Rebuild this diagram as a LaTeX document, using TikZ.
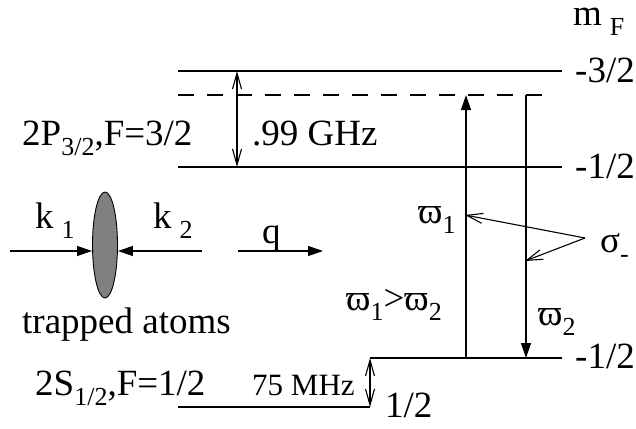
\documentclass[tikz,border=0pt]{standalone}
\usepackage{fontspec}
\setmainfont{Liberation Serif}
\usetikzlibrary{arrows.meta,shapes.geometric}
\newcommand{\lowsub}[1]{\raisebox{-10pt}{\fontsize{26}{26}\selectfont #1}}
\tikzset{
  level/.style={line width=2.4pt},
  dlevel/.style={line width=2.2pt, dash pattern=on 16pt off 13pt},
  lbl/.style={anchor=base west, inner sep=0pt, font=\fontsize{37}{37}\selectfont},
  smalllbl/.style={anchor=base west, inner sep=0pt, font=\fontsize{31}{31}\selectfont},
  fillarrow/.style={line width=1.1pt, -{Triangle[length=15pt,width=10pt]}},
  openarrow/.style={line width=1.1pt, -{Straight Barb[length=16pt,width=10pt]}},
  dblarrow/.style={line width=1.1pt, {Straight Barb[length=16pt,width=9pt]}-{Straight Barb[length=16pt,width=9pt]}},
}
\begin{document}
\begin{tikzpicture}[x=1pt,y=-1pt]
\useasboundingbox (0,0) rectangle (636,428);
% levels
\coordinate (P3L) at (178,71);  \coordinate (P3R) at (562,71);
\coordinate (PdL) at (178,95);  \coordinate (PdR) at (545,95);
\coordinate (P1L) at (178,167); \coordinate (P1R) at (562,167);
\coordinate (S1L) at (370,358); \coordinate (S1R) at (562,358);
\coordinate (S0L) at (178,407); \coordinate (S0R) at (370,407);
\draw[level] (P3L) -- (P3R);
\draw[dlevel] (PdL) -- (PdR);
\draw[level] (P1L) -- (P1R);
\draw[level] (S1L) -- (S1R);
\draw[level] (S0L) -- (S0R);
% splittings
\coordinate (gA) at (237,71); \coordinate (gB) at (237,167);
\draw[dblarrow] (gA) -- (gB);
\draw[dblarrow] (S1L) -- (S0R);
% transitions
\coordinate (upB) at (466,358); \coordinate (upT) at (466,95);
\coordinate (dnT) at (526,95);  \coordinate (dnB) at (526,358);
\draw[fillarrow] (upB) -- (upT);
\draw[fillarrow] (dnT) -- (dnB);
% sigma arrows
\coordinate (sg) at (585,238);
\coordinate (w1tip) at (465,215);
\coordinate (w2tip) at (525,261);
\draw[openarrow] (sg) -- (w1tip);
\draw[openarrow] (sg) -- (w2tip);
% atoms
\node[ellipse, draw, line width=0.9pt, fill={rgb,255:red,128;green,128;blue,128}, minimum width=25pt, minimum height=106pt, inner sep=0pt] (atoms) at (105,245) {};
\coordinate (k1s) at (10,251);
\coordinate (k2s) at (202,251);
\coordinate (qs) at (238,251);
\coordinate (qe) at (323,251);
\draw[fillarrow] (k1s) -- (k1s -| atoms.west);
\draw[fillarrow] (k2s) -- (k2s -| atoms.east);
\draw[fillarrow] (qs) -- (qe);
% labels
\node[lbl] (mF) at (573,26) {m\hspace{8pt}\lowsub{F}};
\node[lbl] (m32) at (575,82) {-3/2};
\node[lbl] (m12a) at (575,178) {-1/2};
\node[lbl] (m12b) at (575,368) {-1/2};
\node[lbl] (p12) at (385,417) {1/2};
\node[lbl] (P32) at (22,145) {2P\lowsub{3/2},F=3/2};
\node[lbl] (GHz) at (252,145) {.99 GHz};
\node[lbl] (k1) at (35,228) {k\hspace{8pt}\lowsub{1}};
\node[lbl] (k2) at (153,228) {k\hspace{8pt}\lowsub{2}};
\node[lbl] (q) at (262,243) {q};
\node[lbl] (trap) at (22,333) {trapped atoms};
\node[lbl] (S12) at (35,395) {2S\lowsub{1/2},F=1/2};
\node[smalllbl] (MHz) at (252,395) {75 MHz};
\node[lbl] (w1) at (418,223) {ϖ\lowsub{1}};
\node[lbl] (sig) at (600,252) {σ\lowsub{-}};
\node[lbl] (w12) at (346,310) {ϖ\lowsub{1}>ϖ\lowsub{2}};
\node[lbl] (w2) at (538,325) {ϖ\lowsub{2}};
\end{tikzpicture}
\end{document}
